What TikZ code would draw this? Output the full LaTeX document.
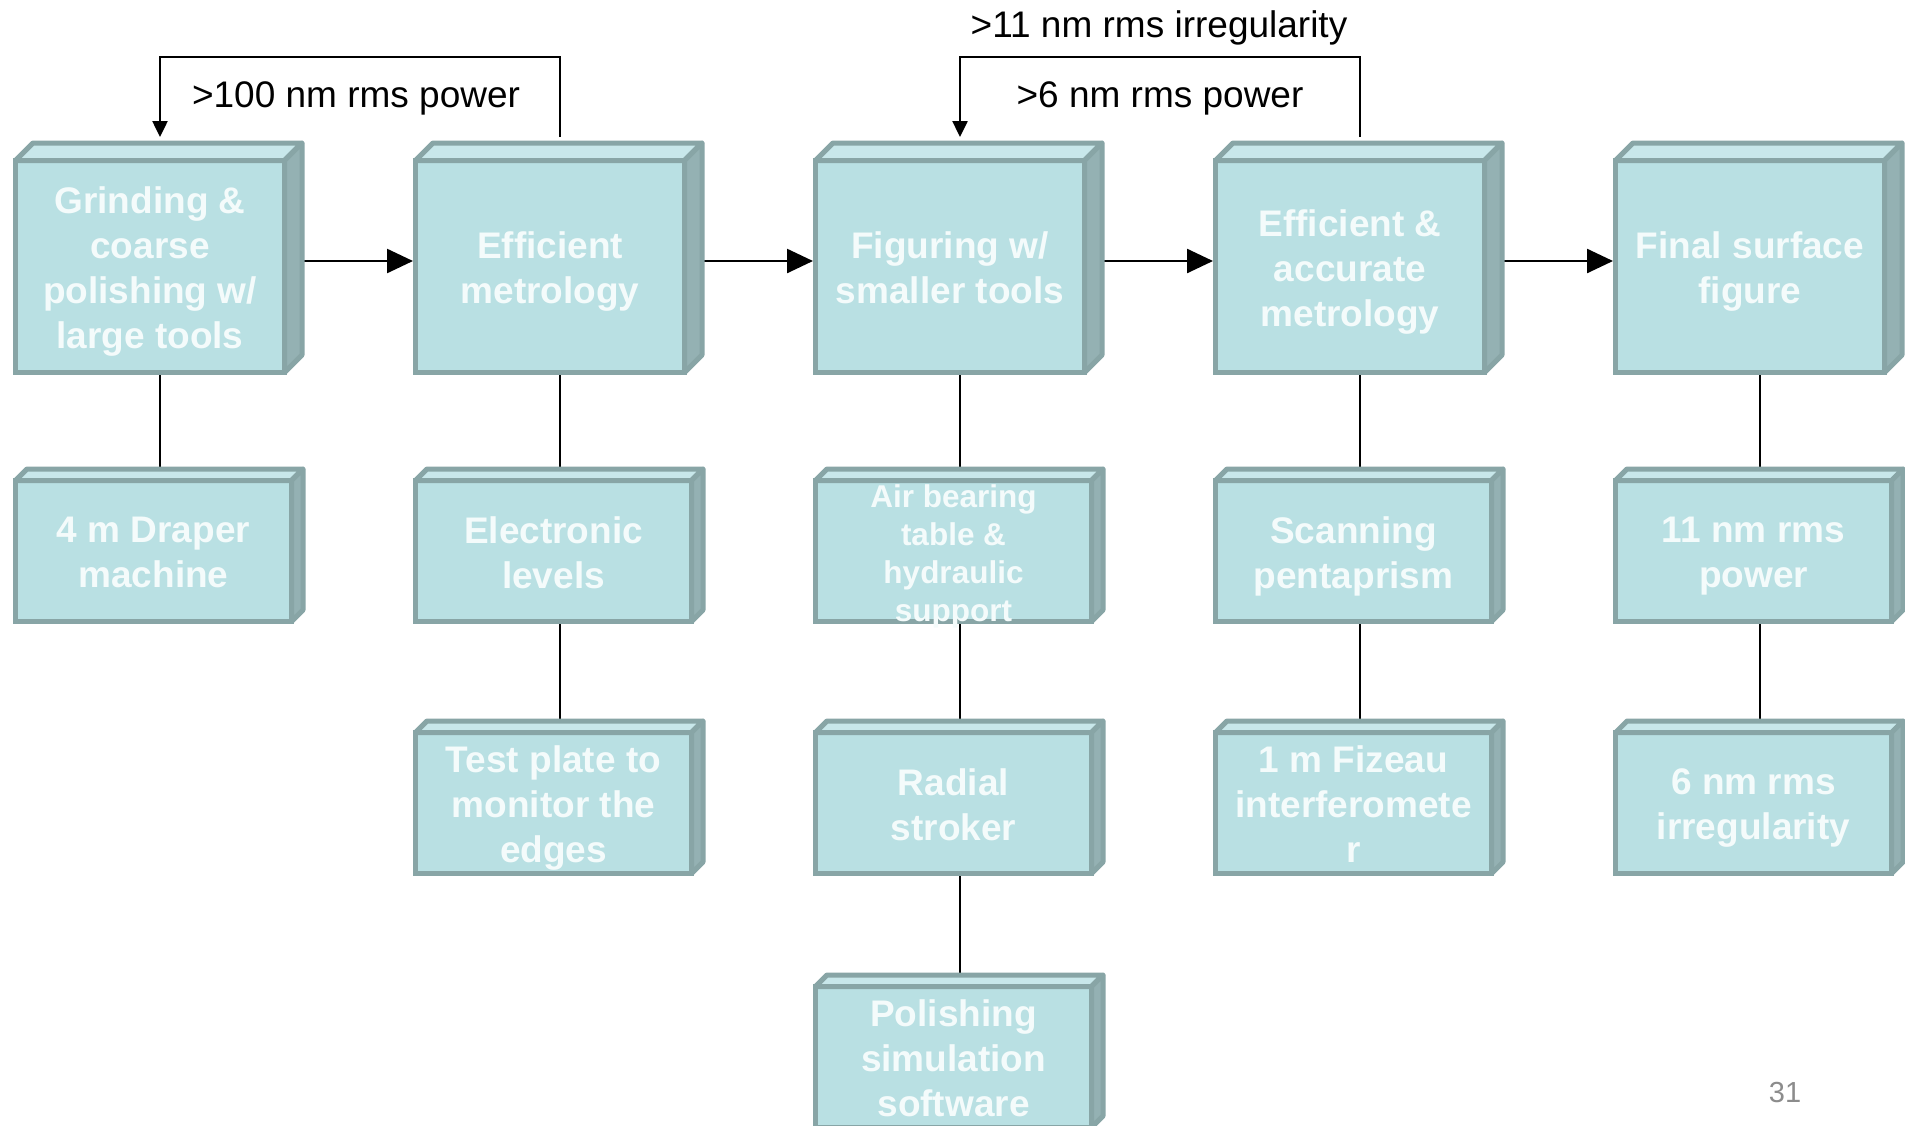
\documentclass[tikz,border=0pt]{standalone}
\usepackage{fontspec}
\setmainfont{Liberation Sans}
\usetikzlibrary{calc,arrows.meta,backgrounds}
\definecolor{frontc}{RGB}{185,224,227}
\definecolor{topc}{RGB}{200,231,234}
\definecolor{sidec}{RGB}{148,177,179}
\definecolor{edgec}{RGB}{136,165,166}
\definecolor{txtc}{RGB}{244,251,251}
\definecolor{pgnum}{RGB}{140,140,140}
\newcommand\cubefaces[2]{%
  \path[faceedge,fill=topc] (#1.north west) -- ++(#2,-#2) -- ($(#1.north east)+(#2,-#2)$) -- (#1.north east) -- cycle;
  \path[faceedge,fill=sidec] (#1.north east) -- ++(#2,-#2) -- ($(#1.south east)+(#2,-#2)$) -- (#1.south east) -- cycle;
}
\newcommand\bigstrut{\rule[-8.8pt]{0pt}{45pt}}
\newcommand\smallstrut{\rule[-7.35pt]{0pt}{38pt}}
\tikzset{
  bigbox/.style={rectangle, draw=edgec, fill=frontc, line width=5pt, minimum width=269pt, minimum height=212pt, inner sep=0pt, outer sep=0pt},
  smallbox/.style={bigbox, minimum width=276pt, minimum height=141pt},
  faceedge/.style={draw=edgec, line width=5pt, line join=round},
  boxtext/.style={text=txtc, font=\fontsize{37}{45}\selectfont\bfseries, align=center, inner sep=0pt, yshift=-5.5pt,
    execute at begin node=\bigstrut, execute at end node=\bigstrut},
  smalltext/.style={text=txtc, font=\fontsize{31.5}{38}\selectfont\bfseries, align=center, inner sep=0pt, yshift=-5.5pt,
    execute at begin node=\smallstrut, execute at end node=\smallstrut},
  conn/.style={line width=2.5pt, draw=black},
  flow/.style={conn, -{Triangle[length=26pt,width=24pt]}, shorten >=2.5pt},
  fb/.style={conn, -{Triangle[length=16pt,width=15pt]}},
  lbl/.style={font=\fontsize{37}{45}\selectfont, anchor=base, inner sep=0pt, text=black},
}
\begin{document}
\begin{tikzpicture}[x=1pt,y=-1pt]
\path[use as bounding box] (0,0) rectangle (1905,1125);
\clip (0,0) rectangle (1905,1125);

% row 1
\foreach \n/\k in {b1/0,b2/1,b3/2,b4/3,b5/4}{
  \node[bigbox] (\n) at (150+400*\k,266.5) {};
  \cubefaces{\n}{17.5}
}
% row 2
\foreach \n/\k in {c1/0,c2/1,c3/2,c4/3,c5/4}{
  \node[smallbox] (\n) at (153.5+400*\k,551) {};
  \cubefaces{\n}{11.5}
}
% row 3
\foreach \n/\k in {d2/1,d3/2,d4/3,d5/4}{
  \node[smallbox] (\n) at (153.5+400*\k,803) {};
  \cubefaces{\n}{11.5}
}
% row 4
\node[smallbox] (e3) at (953.5,1057) {};
\cubefaces{e3}{11.5}

% texts
\node[boxtext] (tb1) at (b1) {Grinding \&\\coarse\\polishing w/\\large tools};
\node[boxtext] (tb2) at (b2) {Efficient\\metrology};
\node[boxtext] (tb3) at (b3) {Figuring w/\\smaller tools};
\node[boxtext] (tb4) at (b4) {Efficient \&\\accurate\\metrology};
\node[boxtext] (tb5) at (b5) {Final surface\\figure};
\node[boxtext] (tc1) at (c1) {4 m Draper\\machine};
\node[boxtext] (tc2) at (c2) {Electronic\\levels};
\node[smalltext] (tc3) at (c3) {Air bearing\\table \&\\hydraulic\\support};
\node[boxtext] (tc4) at (c4) {Scanning\\pentaprism};
\node[boxtext] (tc5) at (c5) {11 nm rms\\power};
\node[boxtext] (td2) at (d2) {Test plate to\\monitor the\\edges};
\node[boxtext] (td3) at (d3) {Radial\\stroker};
\node[boxtext] (td4) at (d4) {1 m Fizeau\\interferomete\\r};
\node[boxtext] (td5) at (d5) {6 nm rms\\irregularity};
\node[boxtext] (te3) at (e3) {Polishing\\simulation\\software};

% labels
\node[lbl] (l1) at (356,107) {>100 nm rms power};
\node[lbl] (l2) at (1160,107) {>6 nm rms power};
\node[lbl] (l3) at (1159,37) {>11 nm rms irregularity};
\node[anchor=base, inner sep=0pt, font=\fontsize{29}{35}\selectfont, text=pgnum] (pg) at (1785,1102) {31};

\coordinate (fby) at (0,57);
\begin{scope}[on background layer]
  \fill[white] (0,0) rectangle (1905,1125);
  % horizontal flow
  \foreach \a/\b in {b1/b2,b2/b3,b3/b4,b4/b5}{
    \draw[flow] ([xshift=18pt,yshift=5.5pt]\a.east) -- ([yshift=5.5pt]\b.west);
  }
  % row1 -> row2
  \foreach \a/\b in {b1/c1,b2/c2,b3/c3,b4/c4,b5/c5}{
    \draw[conn] ([xshift=10pt]\a.south) -- ([xshift=6.5pt,yshift=11pt]\b.north);
  }
  % row2 -> row3
  \foreach \a/\b in {c2/d2,c3/d3,c4/d4,c5/d5}{
    \draw[conn] ([xshift=6.5pt]\a.south) -- ([xshift=6.5pt,yshift=11pt]\b.north);
  }
  \draw[conn] ([xshift=6.5pt]d3.south) -- ([xshift=6.5pt,yshift=11pt]e3.north);
  % feedback loops
  \draw[fb] ([xshift=10pt,yshift=23.5pt]b2.north) -- ([xshift=10pt]b2.north |- fby) -- ([xshift=10pt]b1.north |- fby) -- ([xshift=10pt,yshift=23.5pt]b1.north);
  \draw[fb] ([xshift=10pt,yshift=23.5pt]b4.north) -- ([xshift=10pt]b4.north |- fby) -- ([xshift=10pt]b3.north |- fby) -- ([xshift=10pt,yshift=23.5pt]b3.north);
\end{scope}
\end{tikzpicture}
\end{document}
